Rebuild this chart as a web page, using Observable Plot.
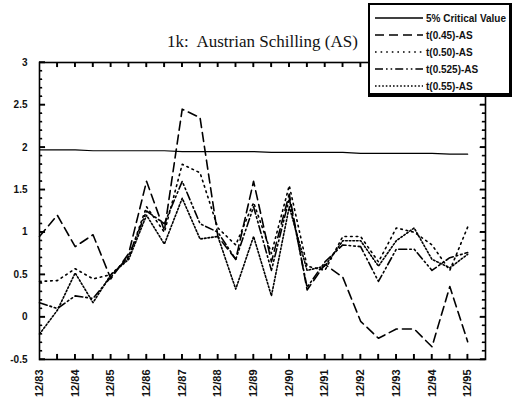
<!DOCTYPE html>
<html><head><meta charset="utf-8">
<script src="https://cdn.jsdelivr.net/npm/d3@7"></script>
<script src="https://cdn.jsdelivr.net/npm/@observablehq/plot@0.6"></script>
<style>
body{margin:0;background:#fff;position:relative;}
#title{position:absolute;left:0;width:525px;top:32px;text-align:center;font-family:"Liberation Serif","DejaVu Serif",serif;font-size:17px;color:#111;}
#legend{position:absolute;left:368px;top:3px;width:139px;height:88px;background:#fff;border:2px solid #000;border-bottom-width:4px;border-right-width:3px;font-family:"Liberation Sans",Arial,sans-serif;font-weight:bold;font-size:10px;color:#111;}
.row{position:absolute;left:5px;height:12px;display:flex;align-items:center;}
.row svg{margin-right:3px;}
</style></head>
<body>
<script>
const xLabels = ["12/83","12/84","12/85","12/86","12/87","12/88","12/89","12/90","12/91","12/92","12/93","12/94","12/95"];
const critical = [1.97,1.97,1.97,1.96,1.96,1.96,1.96,1.96,1.95,1.95,1.95,1.95,1.95,1.94,1.94,1.94,1.94,1.94,1.93,1.93,1.93,1.93,1.93,1.92,1.92];
const t045  = [0.95,1.2,0.83,0.97,0.45,0.75,1.6,1.02,2.45,2.35,0.95,0.68,1.6,0.65,1.45,0.32,0.62,0.47,-0.05,-0.25,-0.14,-0.14,-0.35,0.36,-0.29];
const t050  = [0.42,0.43,0.57,0.45,0.5,0.7,1.3,1.0,1.8,1.7,1.05,0.85,1.35,0.75,1.55,0.6,0.55,0.95,0.95,0.65,1.05,1.0,0.85,0.55,1.06];
const t0525 = [0.17,0.1,0.25,0.22,0.47,0.72,1.25,1.1,1.6,1.1,1.0,0.68,1.3,0.55,1.4,0.35,0.65,0.85,0.83,0.42,0.8,0.8,0.55,0.7,0.76];
const t055  = [-0.2,0.08,0.52,0.17,0.5,0.68,1.2,0.86,1.4,0.92,0.95,0.33,0.95,0.25,1.3,0.55,0.6,0.9,0.9,0.6,0.9,1.05,0.68,0.58,0.74];
const seriesNames = ["5% Critical Value","t(0.45)-AS","t(0.50)-AS","t(0.525)-AS","t(0.55)-AS"];
const dashes = [null,"9,5","1.6,4","8,3,1.6,3,1.6,3","1.6,2"];

const allSeries = [critical,t045,t050,t0525,t055];
const rows = [];
allSeries.forEach((vals,s)=>vals.forEach((v,i)=>rows.push({i, v, s})));

const halfTicks = d3.range(1,25);
const yearTicks = d3.range(0,25,2);
const majorY = [-0.5,0,0.5,1,1.5,2,2.5,3];
const minorY = d3.range(-5,30).filter(k=>k%5!==0).map(k=>k/10);

const lineMarks = allSeries.map((vals,s)=>Plot.line(rows.filter(r=>r.s===s),{x:"i",y:"v",stroke:"#000",strokeWidth: s===0?1.2:1.6,strokeDasharray: dashes[s]}));

const chart = Plot.plot({
  width:515,height:408,marginLeft:39,marginRight:30,marginTop:62,marginBottom:49,
  x:{domain:[0,25]},
  y:{domain:[-0.5,3]},
  style:{fontFamily:"'Liberation Sans',Arial,sans-serif",fontSize:"10px",fontWeight:"bold",color:"#111"},
  marks:[
    Plot.axisY({ticks:majorY,tickSize:0,tickPadding:12,tickFormat:d=>String(d),label:null}),
    Plot.axisX({ticks:yearTicks,tickSize:0,tickPadding:10,tickRotate:-90,tickFormat:i=>xLabels[i/2],label:null,fontSize:11}),
    Plot.ruleY(majorY,{y:d=>d,x1:0,x2:0.34,stroke:"#000",strokeWidth:1.4}),
    Plot.ruleY(minorY,{y:d=>d,x1:0,x2:0.18,stroke:"#000",strokeWidth:1.1}),
    Plot.ruleY(majorY,{y:d=>d,x1:25,x2:24.7,stroke:"#000",strokeWidth:1.4}),
    Plot.ruleY(minorY,{y:d=>d,x1:25,x2:24.82,stroke:"#000",strokeWidth:1.1}),
    Plot.ruleX(halfTicks,{x:d=>d,y1:-0.5,y2:-0.44,stroke:"#000",strokeWidth:1.4}),
    Plot.ruleX(halfTicks,{x:d=>d,y1:3,y2:2.94,stroke:"#000",strokeWidth:1.4}),
    ...lineMarks,
    Plot.frame({stroke:"#000",strokeWidth:1.6})
  ]
});
document.body.appendChild(chart);

// extra tick layer through the chart's own scales
const sx = chart.scale("x"), sy = chart.scale("y");
const svg = d3.select(chart);
const tg = svg.append("g").attr("stroke","#000");
const X0 = sx.apply(0), X1 = sx.apply(25), Y0 = sy.apply(-0.5), Y1 = sy.apply(3);
majorY.forEach(v=>{const y=sy.apply(v);
  tg.append("line").attr("x1",X0).attr("x2",X0+6).attr("y1",y).attr("y2",y).attr("stroke-width",1.4);
  tg.append("line").attr("x1",X1).attr("x2",X1-5).attr("y1",y).attr("y2",y).attr("stroke-width",1.4);});
minorY.forEach(v=>{const y=sy.apply(v);
  tg.append("line").attr("x1",X0).attr("x2",X0+3).attr("y1",y).attr("y2",y).attr("stroke-width",1.1);
  tg.append("line").attr("x1",X1).attr("x2",X1-3).attr("y1",y).attr("y2",y).attr("stroke-width",1.1);});
halfTicks.forEach(v=>{const x=sx.apply(v);
  tg.append("line").attr("x1",x).attr("x2",x).attr("y1",Y0).attr("y2",Y0-5).attr("stroke-width",1.4);
  tg.append("line").attr("x1",x).attr("x2",x).attr("y1",Y1).attr("y2",Y1+5).attr("stroke-width",1.4);});

const title = document.createElement("div");
title.id = "title";
title.innerHTML = "1k:&nbsp; Austrian Schilling (AS)";
document.body.appendChild(title);

const leg = document.createElement("div");
leg.id = "legend";
document.body.appendChild(leg);
seriesNames.forEach((name,s)=>{
  const r = document.createElement("div");
  r.className="row";
  r.style.top = (7 + s*17)+"px";
  r.innerHTML = `<svg width="48" height="6"><line x1="0" y1="3" x2="48" y2="3" stroke="#000" stroke-width="${s===0?1.3:1.6}" ${dashes[s]?`stroke-dasharray="${dashes[s]}"`:""}/></svg><span>${name}</span>`;
  leg.appendChild(r);
});
</script>
</body></html>
